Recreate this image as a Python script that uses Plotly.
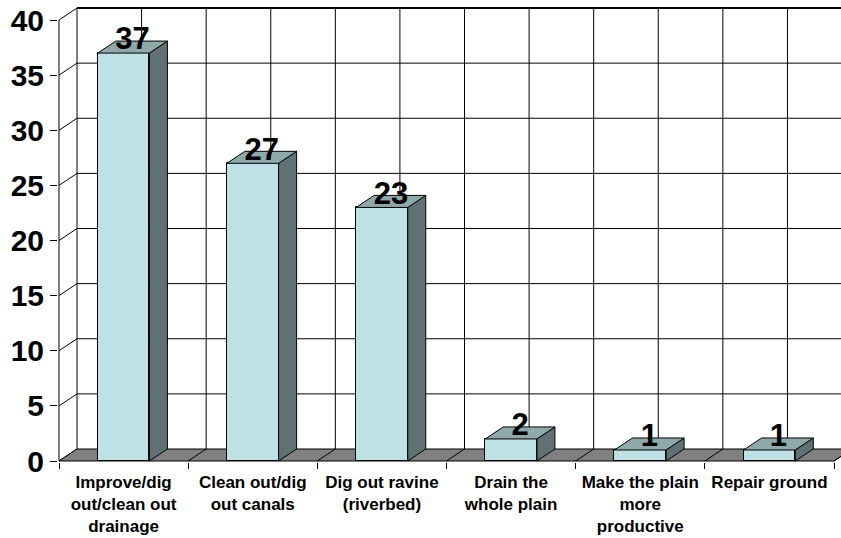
import plotly.graph_objects as go

# ---- data ----
categories = [
    "Improve/dig<br>out/clean out<br>drainage",
    "Clean out/dig<br>out canals",
    "Dig out ravine<br>(riverbed)",
    "Drain the<br>whole plain",
    "Make the plain<br>more<br>productive",
    "Repair ground",
]
counts = [37, 27, 23, 2, 1, 1]
y_ticks = [0, 5, 10, 15, 20, 25, 30, 35, 40]

# ---- geometry / style ----
W, H = 841, 538
M_L, M_R, M_T, M_B = 58, 0, 0, 76
PX_X = 129.17          # pixels per category
PX_Y = 11.025          # pixels per unit of value
DX = 18 / PX_X         # depth offset (x, data units)
DY = 12 / PX_Y         # depth offset (y, data units)
BAR_W = 0.4

FRONT = "#bde1e4"
SIDE = "#5f7173"
TOP = "#8fa9ab"
FLOOR = "#808080"
EDGE = "#000000"
FONT = "Liberation Sans, Arial, sans-serif"

n = len(categories)
idx = list(range(n))
x_left, x_right = -0.5, n - 0.5
y_top = max(y_ticks)

x_range = [x_left - 1 / PX_X, x_left + (W - M_L - M_R - 1) / PX_X]
plot_h = H - M_T - M_B
y_range = [-1 / PX_Y, -1 / PX_Y + plot_h / PX_Y]

shapes = []

def seg(x0, y0, x1, y1, width=1, color=EDGE):
    shapes.append(dict(type="line", xref="x", yref="y", x0=x0, y0=y0, x1=x1, y1=y1,
                       line=dict(color=color, width=width), layer="below"))

def poly(pts, fill, width=1):
    path = "M " + " L ".join(f"{px},{py}" for px, py in pts) + " Z"
    shapes.append(dict(type="path", xref="x", yref="y", path=path, fillcolor=fill,
                       line=dict(color=EDGE, width=width), layer="below"))

# back wall: horizontal gridlines
for v in y_ticks[1:]:
    seg(x_left + DX, v + DY, x_right + DX, v + DY, width=2 if v == y_top else 1)
# back wall: vertical gridlines at category edges and centres
k = 0
while x_left + k * 0.5 <= x_right + 1e-9:
    xv = x_left + k * 0.5 + DX
    seg(xv, DY, xv, y_top + DY)
    k += 1
# side wall diagonals at each tick
for v in y_ticks:
    seg(x_left, v, x_left + DX, v + DY)
# floor
poly([(x_left, 0), (x_right, 0), (x_right + DX, DY), (x_left + DX, DY)], FLOOR)
for b in range(1, n + 1):
    seg(x_left + b, 0, x_left + b + DX, DY)
# front value axis line
seg(x_left, 0, x_left, y_top)

fig = go.Figure()

# bar front faces
fig.add_trace(go.Bar(
    x=idx, y=counts, width=BAR_W,
    marker=dict(color=FRONT, line=dict(color=EDGE, width=1)),
    hoverinfo="skip", showlegend=False,
))

# bar side and top faces
side_x, side_y, top_x, top_y = [], [], [], []
for i, v in zip(idx, counts):
    r = i + BAR_W / 2
    l = i - BAR_W / 2
    side_x += [r, r + DX, r + DX, r, r, None]
    side_y += [0, DY, v + DY, v, 0, None]
    top_x += [l, r, r + DX, l + DX, l, None]
    top_y += [v, v, v + DY, v + DY, v, None]

fig.add_trace(go.Scatter(x=side_x, y=side_y, mode="lines", fill="toself",
                         fillcolor=SIDE, line=dict(color=EDGE, width=1),
                         hoverinfo="skip", showlegend=False))
fig.add_trace(go.Scatter(x=top_x, y=top_y, mode="lines", fill="toself",
                         fillcolor=TOP, line=dict(color=EDGE, width=1),
                         hoverinfo="skip", showlegend=False))

# value labels
fig.add_trace(go.Scatter(
    x=[i + DX / 2 for i in idx], y=[v + DY * 0.95 for v in counts],
    mode="text", text=[f"<b>{v}</b>" for v in counts], textposition="middle center",
    textfont=dict(family=FONT, size=31, color="black"),
    hoverinfo="skip", showlegend=False, cliponaxis=False,
))

fig.update_layout(
    width=W, height=H,
    margin=dict(l=M_L, r=M_R, t=M_T, b=M_B),
    paper_bgcolor="white", plot_bgcolor="white",
    shapes=shapes,
    bargap=0,
    xaxis=dict(
        range=x_range, showgrid=False, zeroline=False, showline=False,
        tickmode="array", tickvals=idx, ticktext=[f"<b>{c}</b>" for c in categories],
        ticks="",
        tickfont=dict(family=FONT, size=17, color="black"),
        ticklabelstandoff=8,
        minor=dict(tickmode="array", tickvals=[x_left + b for b in range(n + 1)],
                   ticks="outside", ticklen=6, tickcolor=EDGE, tickwidth=1, showgrid=False),
        fixedrange=True,
    ),
    yaxis=dict(
        range=y_range, showgrid=False, zeroline=False, showline=False,
        tickmode="array", tickvals=y_ticks, ticktext=[f"<b>{t}</b>" for t in y_ticks],
        ticks="outside", ticklen=7, tickcolor=EDGE, tickwidth=1,
        tickfont=dict(family=FONT, size=30, color="black"),
        ticklabelstandoff=0,
        fixedrange=True,
    ),
)

fig.write_html("out.html")
